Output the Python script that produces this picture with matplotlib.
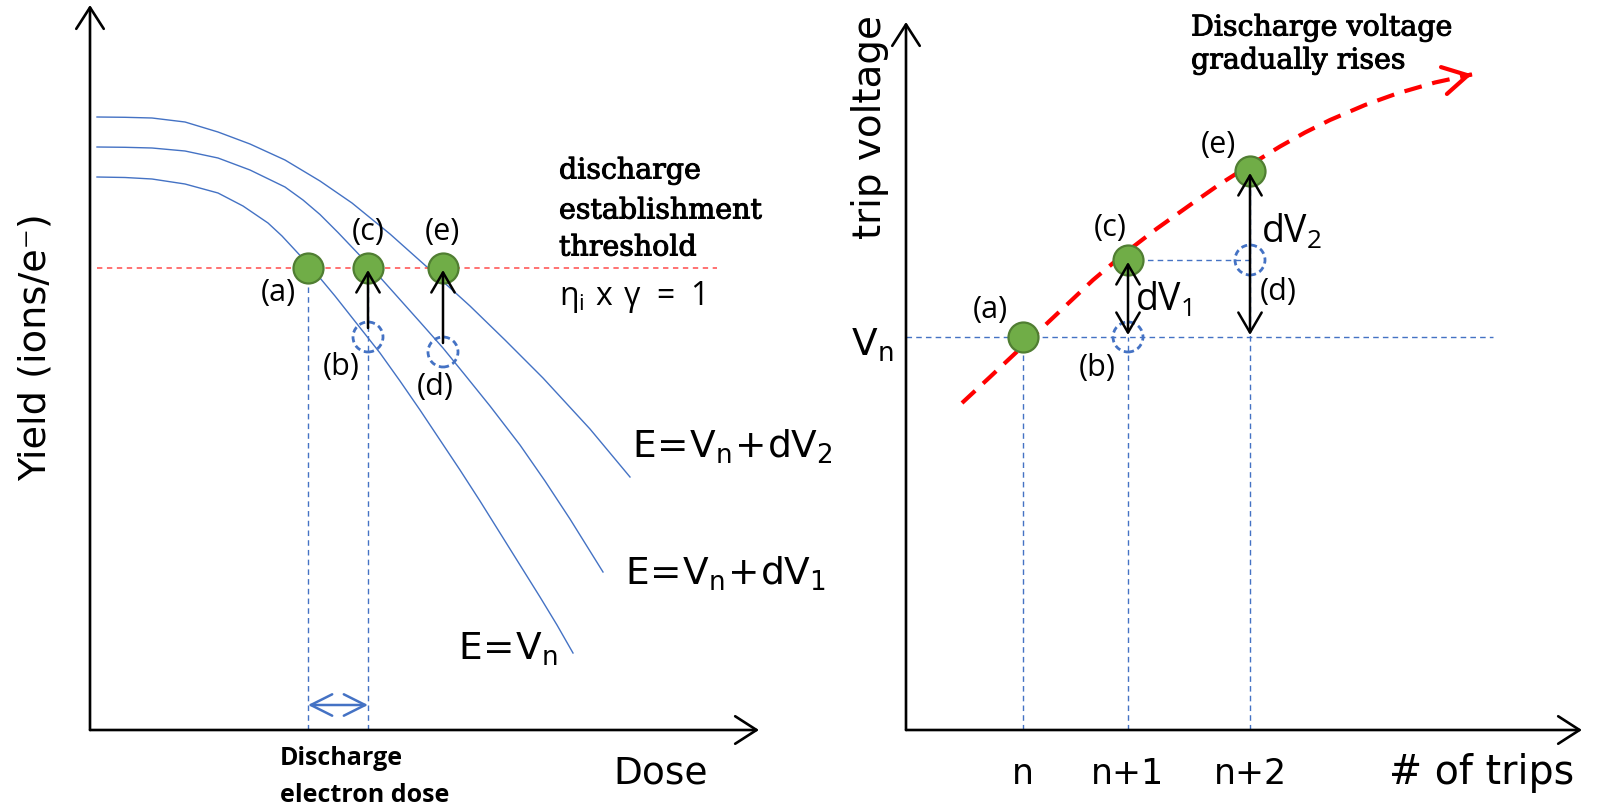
import matplotlib.pyplot as plt
import matplotlib.patheffects as pe
from matplotlib.patches import Circle

# ---- left panel: ion yield vs. electron dose (arbitrary units) ----
dose_vn = [0.07, 0.35, 0.62, 0.95, 1.28, 1.53, 1.78, 1.92, 2.05, 2.18, 2.30, 2.45, 2.60,
           2.75, 2.90, 3.10, 3.30, 3.50, 3.70, 3.90, 4.10, 4.30, 4.50, 4.67, 4.83]
yield_vn = [5.53, 5.525, 5.51, 5.46, 5.37, 5.24, 5.07, 4.94, 4.80, 4.66, 4.52, 4.34, 4.15,
            3.96, 3.77, 3.49, 3.20, 2.90, 2.60, 2.29, 1.97, 1.65, 1.33, 1.05, 0.77]
dose_dv1 = [0.07, 0.35, 0.62, 0.95, 1.28, 1.60, 1.95, 2.13, 2.30, 2.48, 2.68, 2.88, 3.05,
            3.30, 3.53, 3.75, 4.00, 4.30, 4.55, 4.80, 5.13]
yield_dv1 = [5.83, 5.827, 5.82, 5.79, 5.72, 5.60, 5.43, 5.30, 5.155, 4.975, 4.765, 4.55,
             4.36, 4.08, 3.82, 3.55, 3.24, 2.85, 2.49, 2.11, 1.58]
dose_dv2 = [0.07, 0.35, 0.62, 0.95, 1.28, 1.60, 1.95, 2.30, 2.62, 3.00, 3.37, 3.80, 4.15,
            4.53, 5.00, 5.40]
yield_dv2 = [6.13, 6.127, 6.12, 6.08, 5.98, 5.86, 5.70, 5.49, 5.27, 4.96, 4.63, 4.24, 3.90,
             3.52, 3.01, 2.53]
threshold = 4.62
thr_span = [0.07, 6.27]

on_dose = [2.18, 2.78, 3.53]          # (a), (c), (e)
off_dose = [2.78, 3.53]               # (b), (d)
off_yield = [3.93, 3.78]
on_labels = ['(a)', '(c)', '(e)']
off_labels = ['(b)', '(d)']

# ---- right panel: trip voltage vs. number of trips ----
trips = [1.17, 2.22, 3.44]
trip_ticks = ['n', 'n+1', 'n+2']
v_n = 3.93
v_trip = [3.93, 4.70, 5.59]           # (a), (c), (e)
v_before = [3.93, 4.70]               # (b), (d)
trend_x = [0.56, 0.84, 1.17, 1.52, 1.87, 2.19, 2.51, 2.84, 3.14, 3.44, 3.74, 3.99, 4.24,
           4.59, 4.91, 5.29, 5.66]
trend_y = [3.27, 3.53, 3.84, 4.17, 4.50, 4.77, 5.015, 5.25, 5.46, 5.65, 5.835, 5.975,
           6.10, 6.25, 6.365, 6.475, 6.556]

BLUE = '#4472C4'
GREEN = '#70AD47'
GREEN_EDGE = '#507E32'
HAND = 'DejaVu Sans'
SERIF = 'DejaVu Serif'
SANS = 'Open Sans'

plt.rcParams['font.family'] = HAND

fig = plt.figure(figsize=(15.97, 8.07), dpi=100)
ax1 = fig.add_axes([0, 0, 800 / 1597, 1])
ax1.set_xlim(-0.90, 7.10)
ax1.set_ylim(-0.77, 7.30)
ax1.axis('off')
ax2 = fig.add_axes([800 / 1597, 0, 797 / 1597, 1])
ax2.set_xlim(-1.06, 6.91)
ax2.set_ylim(-0.77, 7.30)
ax2.axis('off')


def axis_arrows(ax, xmax, ymax):
    kw = dict(arrowstyle='->,head_length=0.7,head_width=0.45', lw=1.9,
              color='black', shrinkA=0, shrinkB=0, mutation_scale=22)
    ax.annotate('', xy=(xmax, 0), xytext=(0, 0), arrowprops=kw)
    ax.annotate('', xy=(0, ymax), xytext=(0, 0), arrowprops=kw)


def dashed_circles(ax, xs, ys):
    for x, y in zip(xs, ys):
        ax.add_patch(Circle((x, y), 0.15, fill=False, ec=BLUE, lw=2,
                            ls=(0, (2.2, 1.4)), zorder=4))


def arrow(ax, start, end, style='->'):
    ax.annotate('', xy=end, xytext=start,
                arrowprops=dict(arrowstyle=style + ',head_length=0.6,head_width=0.35',
                                lw=1.8, color='black', shrinkA=0, shrinkB=0,
                                mutation_scale=24), zorder=6)


vdash = dict(color=BLUE, lw=1.0, ls=(0, (4, 3)))
heavy = [pe.withStroke(linewidth=0.7, foreground='black')]

# left panel
axis_arrows(ax1, 6.69, 7.25)
for d, y in ((dose_vn, yield_vn), (dose_dv1, yield_dv1), (dose_dv2, yield_dv2)):
    ax1.plot(d, y, color=BLUE, lw=1.0)
ax1.plot(thr_span, [threshold, threshold], color='#FF4B4B', lw=1.1, ls=(0, (3.5, 3)))
for d in on_dose[:2]:
    ax1.plot([d, d], [0, threshold], **vdash)
ax1.annotate('', xy=(on_dose[1], 0.25), xytext=(on_dose[0], 0.25),
             arrowprops=dict(arrowstyle='<->,head_length=0.7,head_width=0.35',
                             color=BLUE, lw=1.8, shrinkA=0, shrinkB=0,
                             mutation_scale=22))
dashed_circles(ax1, off_dose, off_yield)
ax1.plot(on_dose, [threshold] * 3, 'o', ms=21.6, mfc=GREEN, mec=GREEN_EDGE,
         mew=1.6, zorder=5)
arrow(ax1, (off_dose[0], off_yield[0] + 0.09), (on_dose[1], threshold - 0.02))
arrow(ax1, (off_dose[1], off_yield[1] + 0.09), (on_dose[2], threshold - 0.02))

lab = dict(family=SANS, fontsize=22, ha='center', va='center')
ax1.text(1.88, 4.37, on_labels[0], **lab)
ax1.text(2.78, 4.98, on_labels[1], **lab)
ax1.text(3.52, 4.98, on_labels[2], **lab)
ax1.text(2.51, 3.63, off_labels[0], **lab)
ax1.text(3.45, 3.43, off_labels[1], **lab)

for y, s in zip([5.59, 5.19, 4.82], ['discharge', 'establishment', 'threshold']):
    ax1.text(4.69, y, s, family=SERIF, fontsize=20.5, va='center', path_effects=heavy)
ax1.text(4.69, 4.33, r'$\mathregular{\eta_i\ x\ \gamma\ =\ 1}$', family=SANS,
         fontsize=23, va='center')

ax1.text(5.42, 2.72, r'$\mathregular{E\!=\!V_n\!+\!dV_2}$', fontsize=27, va='baseline')
ax1.text(5.35, 1.45, r'$\mathregular{E\!=\!V_n\!+\!dV_1}$', fontsize=27, va='baseline')
ax1.text(3.68, 0.70, r'$\mathregular{E\!=\!V_n}$', fontsize=27, va='baseline')
ax1.text(5.23, -0.53, 'Dose', fontsize=27, va='baseline')
ax1.text(-0.54, 3.83, 'Yield (ions/e⁻)', fontsize=27.5, rotation=90,
         ha='center', va='center')
ax1.text(1.90, -0.35, 'Discharge', family=SANS, weight='bold', fontsize=18,
         va='baseline')
ax1.text(1.90, -0.72, 'electron dose', family=SANS, weight='bold', fontsize=18,
         va='baseline')

# right panel
axis_arrows(ax2, 6.76, 7.08)
ax2.plot([0, 5.87], [v_n, v_n], **vdash)
ax2.plot([trips[1], trips[2]], [v_trip[1], v_trip[1]], **vdash)
for t, v in zip(trips, [v_n, v_n, v_trip[2]]):
    ax2.plot([t, t], [0, v], **vdash)
ax2.plot(trend_x, trend_y, color='red', lw=3, ls=(0, (4.3, 2.6)))
dx = trend_x[-1] - trend_x[-2]
dy = trend_y[-1] - trend_y[-2]
ax2.annotate('', xy=(trend_x[-1], trend_y[-1]),
             xytext=(trend_x[-1] - 0.05 * dx, trend_y[-1] - 0.05 * dy),
             arrowprops=dict(arrowstyle='->,head_length=0.8,head_width=0.45',
                             color='red', lw=3, shrinkA=0, shrinkB=0,
                             mutation_scale=22))
dashed_circles(ax2, trips[1:], v_before)
ax2.plot(trips, v_trip, 'o', ms=21.6, mfc=GREEN, mec=GREEN_EDGE, mew=1.6, zorder=5)
arrow(ax2, (trips[1], v_before[0] + 0.02), (trips[1], v_trip[1] - 0.02), '<->')
arrow(ax2, (trips[2], v_before[0] + 0.02), (trips[2], v_trip[2] - 0.02), '<->')

ax2.text(0.84, 4.20, on_labels[0], **lab)
ax2.text(2.04, 5.02, on_labels[1], **lab)
ax2.text(3.12, 5.85, on_labels[2], **lab)
ax2.text(1.91, 3.62, off_labels[0], **lab)
ax2.text(3.72, 4.38, off_labels[1], **lab)
ax2.text(2.29, 4.30, r'$\mathregular{dV_1}$', family=SANS, fontsize=27, va='center')
ax2.text(3.55, 4.98, r'$\mathregular{dV_2}$', family=SANS, fontsize=27, va='center')

ax2.text(-0.13, 3.85, r'$\mathregular{V_n}$', fontsize=27, ha='right', va='center')
ax2.text(-0.36, 6.03, 'trip voltage', fontsize=28, rotation=90, ha='center',
         va='center')
for t, s in zip(trips, trip_ticks):
    ax2.text(t, -0.54, s, fontsize=25, ha='center', va='baseline')
ax2.text(5.76, -0.54, '# of trips', fontsize=28.5, ha='center', va='baseline')
ax2.text(2.85, 7.02, 'Discharge voltage', family=SERIF, fontsize=20.5, va='center',
         path_effects=heavy)
ax2.text(2.85, 6.69, 'gradually rises', family=SERIF, fontsize=20.5, va='center',
         path_effects=heavy)

fig.savefig('out.png', dpi=100)
